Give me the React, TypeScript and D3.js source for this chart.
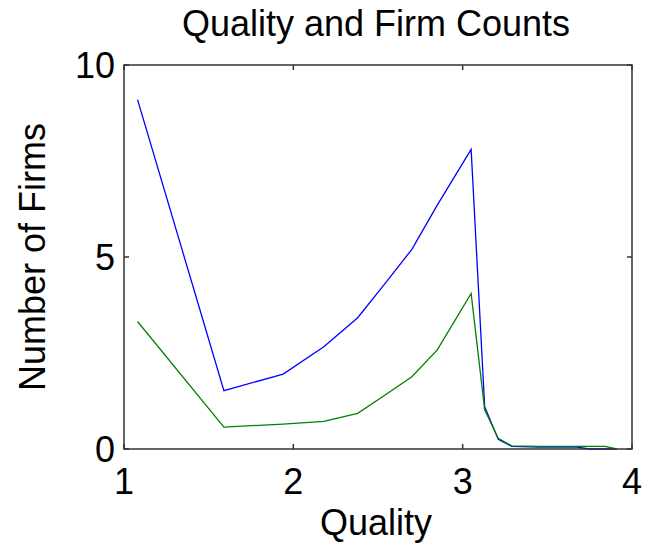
import React, { useEffect, useRef } from "react";
import * as d3 from "d3";

// quality grid (x) shared by both series
const quality = [1.08, 1.59, 1.94, 2.18, 2.38, 2.54, 2.70, 2.85, 3.05, 3.13, 3.21, 3.29, 3.45, 3.60, 3.675, 3.75, 3.84, 3.91];
const seriesA = [9.1, 1.52, 1.95, 2.66, 3.42, 4.3, 5.2, 6.35, 7.8, 1.1, 0.25, 0.07, 0.05, 0.05, 0.05, 0.0, 0.0, 0.0];
const seriesB = [3.32, 0.57, 0.65, 0.72, 0.93, 1.4, 1.88, 2.58, 4.05, 1.02, 0.28, 0.08, 0.07, 0.07, 0.07, 0.07, 0.07, 0.0];
const xTicks = [1, 2, 3, 4];
const yTicks = [0, 5, 10];

const W = 655;
const H = 550;
const margin = { top: 65, right: 23, bottom: 101, left: 124 };

export default function App() {
  const ref = useRef<SVGSVGElement>(null);

  useEffect(() => {
    const svg = d3.select(ref.current);
    svg.selectAll("*").remove();

    const width = W - margin.left - margin.right;
    const height = H - margin.top - margin.bottom;

    const x = d3.scaleLinear().domain([1, 4]).range([0, width]);
    const y = d3.scaleLinear().domain([0, 10]).range([height, 0]);

    const g = svg.append("g")
      .attr("transform", "translate(" + margin.left + "," + margin.top + ")");

    const font = "Liberation Sans, Arial, sans-serif";

    // lines
    const line = d3.line<number>()
      .x((d, i) => x(quality[i]))
      .y(d => y(d));

    g.append("path").datum(seriesA)
      .attr("fill", "none").attr("stroke", "#0000ff").attr("stroke-width", 1.3)
      .attr("d", line);
    g.append("path").datum(seriesB)
      .attr("fill", "none").attr("stroke", "#008000").attr("stroke-width", 1.3)
      .attr("d", line);

    // box
    g.append("rect")
      .attr("width", width).attr("height", height)
      .attr("fill", "none").attr("stroke", "#333").attr("stroke-width", 1.5);

    const tk = 5;
    // inward ticks, all four sides
    xTicks.forEach(t => {
      g.append("line").attr("x1", x(t)).attr("x2", x(t)).attr("y1", height).attr("y2", height - tk)
        .attr("stroke", "#333").attr("stroke-width", 1.5);
      g.append("line").attr("x1", x(t)).attr("x2", x(t)).attr("y1", 0).attr("y2", tk)
        .attr("stroke", "#333").attr("stroke-width", 1.5);
      g.append("text").attr("x", x(t)).attr("y", height + 45)
        .attr("text-anchor", "middle").attr("font-family", font).attr("font-size", 36)
        .text(t);
    });
    yTicks.forEach(t => {
      g.append("line").attr("x1", 0).attr("x2", tk).attr("y1", y(t)).attr("y2", y(t))
        .attr("stroke", "#333").attr("stroke-width", 1.5);
      g.append("line").attr("x1", width).attr("x2", width - tk).attr("y1", y(t)).attr("y2", y(t))
        .attr("stroke", "#333").attr("stroke-width", 1.5);
      g.append("text").attr("x", -9).attr("y", y(t) + 13)
        .attr("text-anchor", "end").attr("font-family", font).attr("font-size", 36)
        .text(t);
    });

    // labels
    svg.append("text").attr("x", 376).attr("y", 36)
      .attr("text-anchor", "middle").attr("font-family", font).attr("font-size", 36)
      .text("Quality and Firm Counts");
    svg.append("text").attr("x", 376).attr("y", 535)
      .attr("text-anchor", "middle").attr("font-family", font).attr("font-size", 36)
      .text("Quality");
    svg.append("text")
      .attr("transform", "translate(45," + (margin.top + height / 2) + ") rotate(-90)")
      .attr("text-anchor", "middle").attr("font-family", font).attr("font-size", 36)
      .text("Number of Firms");
  }, []);

  return (
    <div style={{ position: "absolute", left: 0, top: 0 }}>
      <svg ref={ref} width={W} height={H} style={{ display: "block", background: "#fff" }}></svg>
    </div>
  );
}
